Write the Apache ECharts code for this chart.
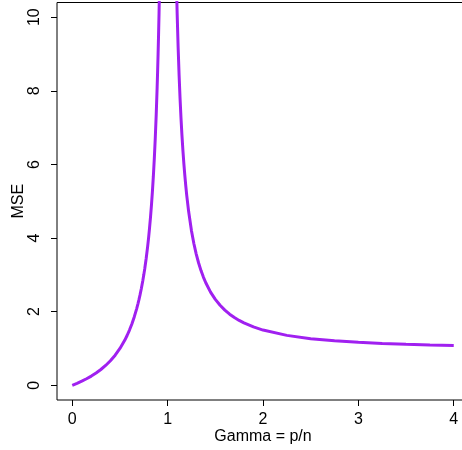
<!DOCTYPE html>
<html><head><meta charset="utf-8">
<script src="https://cdn.jsdelivr.net/npm/echarts@6/dist/echarts.min.js"></script>
<style>html,body{margin:0;padding:0;background:#fff}#c{width:462px;height:450px}</style>
</head><body><div id="c"></div>
<script>
// Left branch (gamma < 1)
const gammaLeft = [0,0.05,0.1,0.15,0.2,0.25,0.3,0.35,0.4,0.45,0.5,0.55,0.575,0.6,0.625,0.65,0.675,0.69,0.7,0.71,0.725,0.74,0.75,0.76,0.775,0.79,0.8,0.81,0.82,0.83,0.84,0.85,0.86,0.87,0.88,0.89,0.895,0.9,0.905,0.91,0.92,0.93];
const mseLeft = [0,0.0526,0.1111,0.1765,0.25,0.3333,0.4286,0.5385,0.6667,0.8182,1,1.2222,1.3529,1.5,1.6667,1.8571,2.0769,2.2258,2.3333,2.4483,2.6364,2.8462,3,3.1667,3.4444,3.7619,4,4.2632,4.5556,4.8824,5.25,5.6667,6.1429,6.6923,7.3333,8.0909,8.5238,9,9.5263,10.111,11.5,13.286];
// Right branch (gamma > 1)
const gammaRight = [1.07,1.08,1.09,1.1,1.11,1.12,1.13,1.14,1.15,1.16,1.17,1.18,1.19,1.2,1.22,1.25,1.275,1.3,1.325,1.35,1.375,1.4,1.45,1.5,1.55,1.6,1.65,1.7,1.75,1.8,1.9,2,2.25,2.5,2.75,3,3.25,3.5,3.75,4];
const mseRight = [14.351,12.574,11.194,10.091,9.19,8.4405,7.8074,7.2657,6.7971,6.3879,6.0277,5.7081,5.4228,5.1667,4.7258,4.2,3.8521,3.5641,3.3222,3.1164,2.9394,2.7857,2.5326,2.3333,2.173,2.0417,1.9324,1.8403,1.7619,1.6944,1.5848,1.5,1.3556,1.2667,1.2078,1.1667,1.1368,1.1143,1.097,1.0833];
const xTicks = [0,1,2,3,4];
const yTicks = [0,2,4,6,8,10];

const font = 'Liberation Sans, Arial, Helvetica, sans-serif';
const chart = echarts.init(document.getElementById('c'), null, {renderer:'canvas'});
const lineColor = '#A020F0';
function mk(xs, ys){ return xs.map((x,i)=>[x,ys[i]]); }
chart.setOption({
  animation:false,
  backgroundColor:'#fff',
  grid:{left:57,top:2.5,width:412,height:397.5,show:true,borderColor:'#000',borderWidth:1,backgroundColor:'transparent',containLabel:false,outerBoundsMode:'none'},
  xAxis:{type:'value',min:-0.16,max:4.16,
    name:'Gamma = p/n',nameLocation:'middle',nameGap:29,nameMoveOverlap:false,
    nameTextStyle:{color:'#000',fontFamily:font,fontSize:16},
    axisLine:{show:false,onZero:false},
    axisTick:{show:true,inside:false,length:6,lineStyle:{color:'#000'},customValues:xTicks},
    axisLabel:{color:'#000',fontFamily:font,fontSize:16,margin:12,customValues:xTicks},
    splitLine:{show:false}},
  yAxis:{type:'value',min:-0.4,max:10.4,
    name:'MSE',nameLocation:'middle',nameGap:30,nameRotate:90,nameMoveOverlap:false,
    nameTextStyle:{color:'#000',fontFamily:font,fontSize:16},
    axisLine:{show:false,onZero:false},
    axisTick:{show:true,inside:false,length:6,lineStyle:{color:'#000'},customValues:yTicks},
    axisLabel:{color:'#000',fontFamily:font,fontSize:16,margin:14,rotate:90,customValues:yTicks},
    splitLine:{show:false}},
  series:[
    {type:'line',data:mk(gammaLeft,mseLeft),showSymbol:false,smooth:false,clip:true,lineStyle:{color:lineColor,width:3}},
    {type:'line',data:mk(gammaRight,mseRight),showSymbol:false,smooth:false,clip:true,lineStyle:{color:lineColor,width:3}}
  ]
});
</script></body></html>
